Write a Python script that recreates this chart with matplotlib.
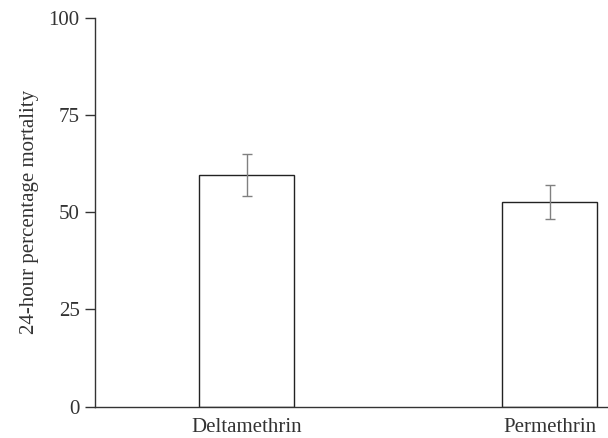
import matplotlib
matplotlib.use("Agg")
import matplotlib.pyplot as plt

categories = ["Deltamethrin", "Permethrin"]
values = [59.6, 52.6]
errors = [5.4, 4.3]
yticks = [0, 25, 50, 75, 100]

plt.rcParams['font.family'] = ['Liberation Serif', 'DejaVu Serif']

fig = plt.figure(figsize=(6.08, 4.38), dpi=100)
ax = fig.add_axes([95/608, (438-406.5)/438, (612-95)/608, (406.5-18)/438])

x = list(range(len(categories)))
ax.bar(x, values, width=0.316, color='white', edgecolor='#222222', linewidth=1.0, zorder=2)
ax.errorbar(x, values, yerr=errors, fmt='none', ecolor='#808080', elinewidth=1.0,
            capsize=3.3, capthick=1.0, zorder=3)

ax.set_xlim(-0.5, (612-246.5)/303)
ax.set_ylim(0, 100)
ax.set_yticks(yticks)
ax.set_xticks(x)
ax.set_xticklabels(categories)
ax.set_ylabel("24-hour percentage mortality", fontsize=15, color='#333333', labelpad=7)

for s in ['top', 'right']:
    ax.spines[s].set_visible(False)
for s in ['left', 'bottom']:
    ax.spines[s].set_color('#333333')
    ax.spines[s].set_linewidth(1.0)

ax.tick_params(axis='y', direction='out', length=7, width=1.0, color='#333333',
               labelsize=15, labelcolor='#333333', pad=4)
ax.tick_params(axis='x', length=0, labelsize=15, labelcolor='#333333', pad=8)

fig.savefig("out.png", dpi=100)
